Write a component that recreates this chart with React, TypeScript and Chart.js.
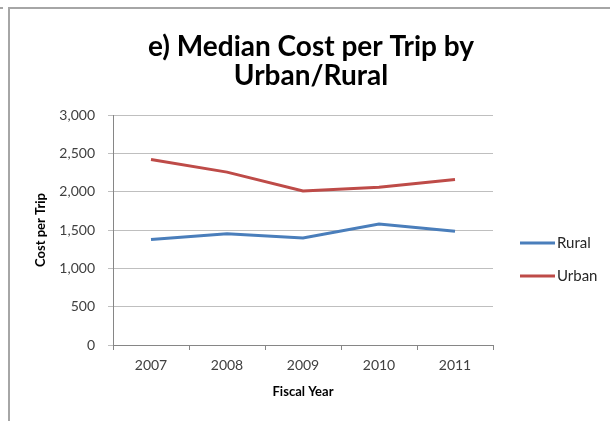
import React, { useEffect, useRef } from "react";
import { Chart, registerables } from "chart.js";

Chart.register(...registerables);

const years = ["2007", "2008", "2009", "2010", "2011"];
const rural = [1375, 1450, 1395, 1578, 1483];
const urban = [2420, 2255, 2010, 2058, 2160];
const seriesNames = ["Rural", "Urban"];
const seriesColors = ["#4A7EBB", "#BE4B48"];
const titleLines = ["e) Median Cost per Trip by", "Urban/Rural"];
const yTitle = "Cost per Trip";
const xTitle = "Fiscal Year";

const FONT = "Lato, 'Open Sans', sans-serif";

const decor = {
  id: "decor",
  beforeDraw(chart: any) {
    const ctx = chart.ctx;
    ctx.save();
    ctx.fillStyle = "#ffffff";
    ctx.fillRect(0, 0, chart.width, chart.height);
    // frame
    ctx.strokeStyle = "#a6a6a6";
    ctx.lineWidth = 2;
    ctx.beginPath();
    ctx.moveTo(9, chart.height);
    ctx.lineTo(9, 8);
    ctx.lineTo(chart.width, 8);
    ctx.stroke();
    ctx.beginPath();
    ctx.moveTo(0, 8);
    ctx.lineTo(3, 8);
    ctx.stroke();
    ctx.restore();
  },
  afterDraw(chart: any) {
    const ctx = chart.ctx;
    const ca = chart.chartArea;
    ctx.save();
    ctx.fillStyle = "#000000";
    ctx.textAlign = "center";
    ctx.textBaseline = "middle";
    ctx.font = `bold 28px ${FONT}`;
    ctx.fillText(titleLines[0], 311, 47);
    ctx.fillText(titleLines[1], 311, 76);
    // axis titles
    ctx.font = `bold 13px ${FONT}`;
    ctx.fillText(xTitle, (ca.left + ca.right) / 2, 392);
    ctx.save();
    ctx.translate(41, (ca.top + ca.bottom) / 2);
    ctx.rotate(-Math.PI / 2);
    ctx.fillText(yTitle, 0, 0);
    ctx.restore();
    // legend
    ctx.font = `15px ${FONT}`;
    ctx.textAlign = "left";
    const ys = [243, 276];
    seriesNames.forEach((n, i) => {
      ctx.strokeStyle = seriesColors[i];
      ctx.lineWidth = 3;
      ctx.beginPath();
      ctx.moveTo(520, ys[i]);
      ctx.lineTo(555, ys[i]);
      ctx.stroke();
      ctx.fillStyle = "#262626";
      ctx.fillText(n, 557, ys[i]);
    });
    ctx.restore();
  },
};

export default function App() {
  const ref = useRef<HTMLCanvasElement>(null);
  useEffect(() => {
    if (!ref.current) return;
    const chart = new Chart(ref.current, {
      type: "line",
      data: {
        labels: years,
        datasets: [
          {
            label: seriesNames[0],
            data: rural,
            borderColor: seriesColors[0],
            backgroundColor: seriesColors[0],
            borderWidth: 3,
            pointRadius: 0,
            tension: 0,
          },
          {
            label: seriesNames[1],
            data: urban,
            borderColor: seriesColors[1],
            backgroundColor: seriesColors[1],
            borderWidth: 3,
            pointRadius: 0,
            tension: 0,
          },
        ],
      },
      options: {
        animation: false,
        responsive: false,
        maintainAspectRatio: false,
        layout: { padding: { left: 0, right: 117, top: 115, bottom: 0 } },
        plugins: {
          legend: { display: false },
          title: { display: false },
          tooltip: { enabled: false },
        },
        scales: {
          x: {
            offset: true,
            grid: {
              offset: true,
              drawOnChartArea: false,
              drawTicks: true,
              tickLength: 5,
              color: "#868686",
            },
            border: { color: "#868686", width: 1 },
            ticks: {
              color: "#404040",
              font: { family: FONT, size: 14 },
              padding: 7,
              maxRotation: 0,
            },
            afterFit(scale: any) {
              scale.height = 76;
            },
          },
          y: {
            min: 0,
            max: 3000,
            grid: {
              color: "#bfbfbf",
              drawTicks: true,
              tickLength: 5,
            },
            border: { color: "#868686", width: 1 },
            ticks: {
              stepSize: 500,
              color: "#404040",
              font: { family: FONT, size: 14 },
              padding: 13,
              callback: (v: any) => Number(v).toLocaleString("en-US"),
            },
            afterFit(scale: any) {
              scale.width = 113;
            },
          },
        },
      },
      plugins: [decor],
    });
    return () => chart.destroy();
  }, []);
  return (
    <canvas
      ref={ref}
      width={610}
      height={421}
      style={{ position: "fixed", left: 0, top: 0, width: 610, height: 421 }}
    />
  );
}
